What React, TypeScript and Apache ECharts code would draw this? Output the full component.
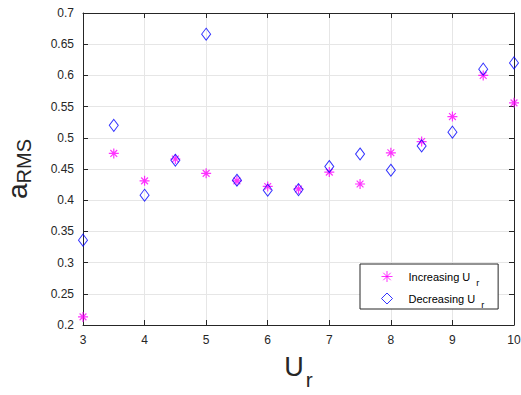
import React, { useEffect, useRef } from "react";
import * as echarts from "echarts";

const urValues = [3, 3.5, 4, 4.5, 5, 5.5, 6, 6.5, 7, 7.5, 8, 8.5, 9, 9.5, 10];
const increasingA = [0.213, 0.475, 0.431, 0.466, 0.443, 0.431, 0.422, 0.418, 0.445, 0.426, 0.476, 0.494, 0.534, 0.600, 0.556];
const decreasingA = [0.336, 0.520, 0.408, 0.464, 0.666, 0.432, 0.416, 0.417, 0.454, 0.474, 0.448, 0.487, 0.509, 0.610, 0.620];
const seriesNames = ["Increasing U_r", "Decreasing U_r"];

const STAR = "path://M5,0L5,10M0,5L10,5M1.6,1.6L8.4,8.4M1.6,8.4L8.4,1.6";
const FONT = "Liberation Sans, Arial, Helvetica, sans-serif";
const AX = "#262626";

export default function App() {
  const ref = useRef<HTMLDivElement>(null);
  useEffect(() => {
    if (!ref.current) return;
    const chart = echarts.init(ref.current, undefined, { renderer: "svg" });
    const toPairs = (vals: number[]) => urValues.map((u, i) => [u, vals[i]]);
    const fmtY = (v: number) => String(parseFloat(v.toFixed(2)));
    const baseX = {
      type: "value" as const,
      min: 3,
      max: 10,
      interval: 1,
    };
    const baseY = {
      type: "value" as const,
      min: 0.2,
      max: 0.7,
      interval: 0.05,
    };
    const lineStyle = { color: AX, width: 1 };
    chart.setOption({
      animation: false,
      backgroundColor: "#ffffff",
      textStyle: { fontFamily: FONT },
      grid: { left: 83, right: 7, top: 13, bottom: 70, containLabel: false, outerBoundsMode: "none" },
      xAxis: [
        {
          ...baseX,
          position: "bottom",
          name: "{m|U}{s|r}",
          nameLocation: "middle",
          nameGap: 28,
          nameMoveOverlap: false,
          nameTextStyle: {
            rich: {
              m: { fontSize: 27, color: AX, fontFamily: FONT },
              s: { fontSize: 21, color: AX, fontFamily: FONT, lineHeight: 1, padding: [26, 0, 0, 2] },
            },
          },
          axisLine: { show: true, lineStyle },
          axisTick: { show: true, inside: true, length: 5, lineStyle },
          axisLabel: { color: AX, fontSize: 12, margin: 9, fontFamily: FONT },
          splitLine: { show: true, lineStyle: { color: "#e6e6e6", width: 1 } },
        },
        {
          ...baseX,
          position: "top",
          axisLine: { show: true, lineStyle },
          axisTick: { show: true, inside: true, length: 5, lineStyle },
          axisLabel: { show: false },
          splitLine: { show: false },
        },
      ],
      yAxis: [
        {
          ...baseY,
          position: "left",
          name: "{m|a}{s|RMS}",
          nameLocation: "middle",
          nameRotate: 90,
          nameGap: 52,
          nameMoveOverlap: false,
          nameTextStyle: {
            rich: {
              m: { fontSize: 28, color: AX, fontFamily: FONT },
              s: { fontSize: 20, color: AX, fontFamily: FONT, lineHeight: 1, padding: [14, 0, 0, 0] },
            },
          },
          axisLine: { show: true, lineStyle },
          axisTick: { show: true, inside: true, length: 5, lineStyle },
          axisLabel: { color: AX, fontSize: 12, margin: 9, fontFamily: FONT, formatter: fmtY },
          splitLine: { show: true, lineStyle: { color: "#e6e6e6", width: 1 } },
        },
        {
          ...baseY,
          position: "right",
          axisLine: { show: true, lineStyle },
          axisTick: { show: true, inside: true, length: 5, lineStyle },
          axisLabel: { show: false },
          splitLine: { show: false },
        },
      ],
      legend: {
        orient: "vertical",
        left: 360,
        top: 264,
        width: 120,
        backgroundColor: "#ffffff",
        borderColor: AX,
        borderWidth: 1,
        borderRadius: 0,
        padding: [2, 14, 0, 19],
        itemWidth: 11,
        itemHeight: 11,
        itemGap: 1,
        data: seriesNames,
        itemStyle: { borderWidth: 1 },
        formatter: (name: string) => {
          const [main, sub] = name.split("_");
          return `{t|${main}}{s|${sub}}`;
        },
        textStyle: {
          rich: {
            t: { fontSize: 11, color: "#000", fontFamily: FONT, padding: [0, 0, 0, 11] },
            s: { fontSize: 9, color: "#000", fontFamily: FONT, lineHeight: 1, padding: [12, 0, 0, 6] },
          },
        },
      },
      series: [
        {
          name: seriesNames[0],
          type: "scatter",
          xAxisIndex: 0,
          yAxisIndex: 0,
          data: toPairs(increasingA),
          symbol: STAR,
          symbolSize: 10,
          itemStyle: { color: "none", borderColor: "#ff00ff", borderWidth: 1.2 },
          z: 2,
        },
        {
          name: seriesNames[1],
          type: "scatter",
          xAxisIndex: 0,
          yAxisIndex: 0,
          data: toPairs(decreasingA),
          symbol: "diamond",
          symbolSize: [9, 12],
          itemStyle: { color: "none", borderColor: "#0000ff", borderWidth: 1 },
          z: 3,
        },
      ],
    });
    return () => chart.dispose();
  }, []);
  return <div ref={ref} style={{ width: 521, height: 395, position: "absolute", left: 0, top: 0 }} />;
}
